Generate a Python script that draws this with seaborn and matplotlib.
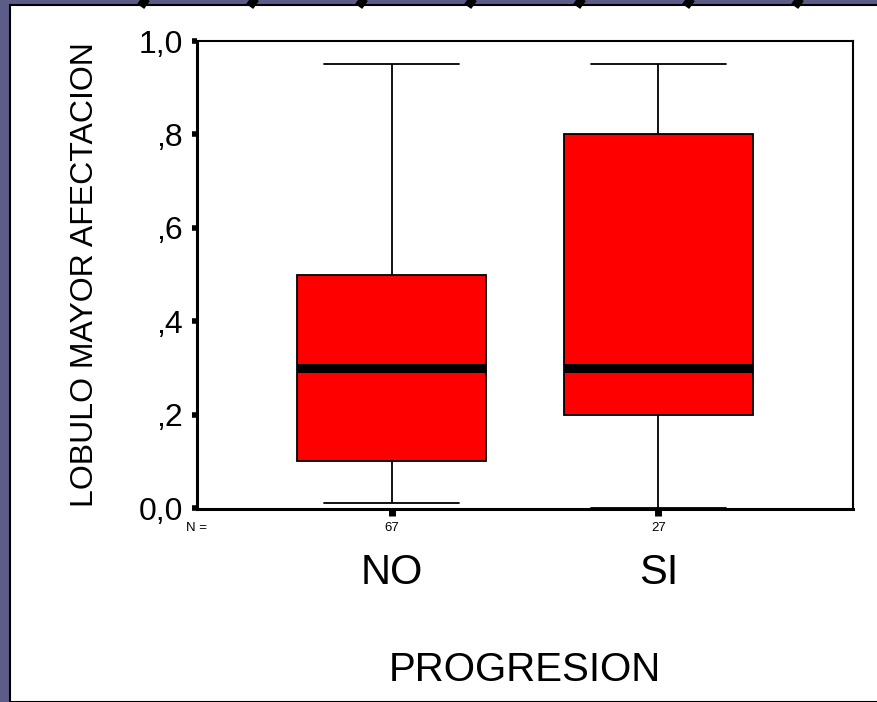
import numpy as np
import pandas as pd
import seaborn as sns
import matplotlib.pyplot as plt
from matplotlib.patches import Rectangle

# five-number summaries (min, Q1, median, Q3, max)
no_values = [0.01, 0.10, 0.30, 0.50, 0.95]
si_values = [0.00, 0.20, 0.30, 0.80, 0.95]
categories = ['NO', 'SI']
n_counts = ['67', '27']
y_ticks = [0.0, 0.2, 0.4, 0.6, 0.8, 1.0]
y_tick_labels = ['0,0', ',2', ',4', ',6', ',8', '1,0']

df = pd.DataFrame({
    'PROGRESION': [categories[0]] * len(no_values) + [categories[1]] * len(si_values),
    'LOBULO': no_values + si_values,
})

sns.set_style('white')
plt.rcParams['font.family'] = ['Liberation Sans', 'DejaVu Sans']
plt.rcParams['text.color'] = 'black'
plt.rcParams['axes.labelcolor'] = 'black'
plt.rcParams['xtick.color'] = 'black'
plt.rcParams['ytick.color'] = 'black'

fig = plt.figure(figsize=(8.77, 7.02), dpi=100)
fig.patch.set_facecolor('#5c5c88')

# white slide panel behind the chart
panel = Rectangle((10 / 877, 0), 1, 1 - 5 / 702, transform=fig.transFigure,
                  facecolor='white', edgecolor='black', linewidth=1.5, zorder=-10)
fig.add_artist(panel)
for px in [140, 249, 358, 467, 576, 685, 794]:
    fig.add_artist(plt.Line2D([px / 877, (px + 7) / 877], [1.0, 1 - 5 / 702],
                              transform=fig.transFigure, color='black',
                              linewidth=7, solid_capstyle='butt', zorder=-9))

ax = fig.add_axes([197 / 877, 1 - 509 / 702, 656 / 877, 468 / 702])
ax.set_zorder(5)
ax.set_facecolor('none')

sns.boxplot(data=df, x='PROGRESION', y='LOBULO', order=categories, ax=ax,
            width=0.71, whis=1.5, color='#ff0000', saturation=1,
            linecolor='black', linewidth=1.3, showfliers=False, capwidths=0.506,
            medianprops=dict(color='black', linewidth=6.5),
            boxprops=dict(facecolor='#ff0000', edgecolor='black'),
            capprops=dict(linewidth=1.3), whiskerprops=dict(linewidth=1.3))

ax.set_xlim(-0.73, 1.73)
ax.set_ylim(-0.002, 1.0)
ax.set_yticks(y_ticks)
ax.set_yticklabels(y_tick_labels, fontsize=23)
ax.set_xticks([0, 1])
ax.set_xticklabels(categories, fontsize=30)
ax.tick_params(axis='y', left=True, direction='out', length=3.5, width=4, pad=6.5, color='black')
ax.tick_params(axis='x', bottom=True, direction='out', length=5, width=5, pad=26.5, color='black')

for s in ax.spines.values():
    s.set_color('black')
    s.set_linewidth(1.5)
ax.spines['bottom'].set_linewidth(2.2)
ax.spines['left'].set_linewidth(2.2)

# N counts under the axis
ax.text(0.0, -0.04, 'N =', transform=ax.transAxes, ha='center', va='center', fontsize=9.5)
for i, n in enumerate(n_counts):
    ax.text(i, -0.04, n, transform=ax.get_xaxis_transform(), ha='center', va='center', fontsize=9.5)

ax.set_xlabel('PROGRESION', fontsize=29, labelpad=42)
ax.set_ylabel('LOBULO MAYOR AFECTACION', fontsize=23, labelpad=28)

fig.savefig('out.png', dpi=100, facecolor=fig.get_facecolor())
